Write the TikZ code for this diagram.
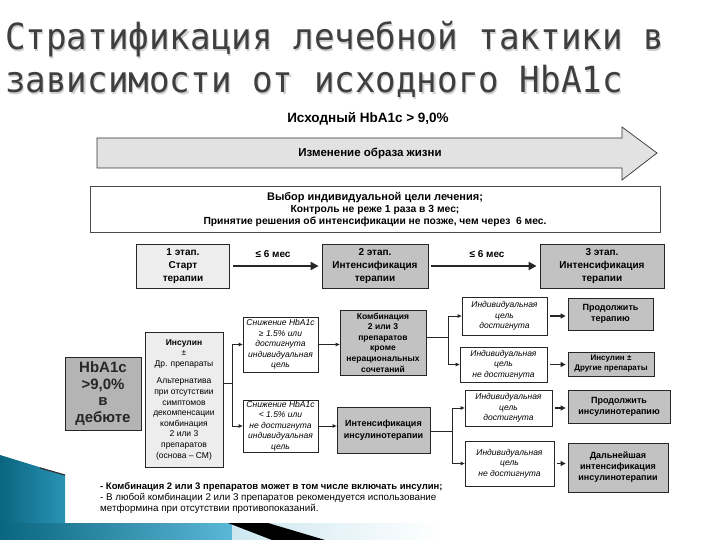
\documentclass[tikz,border=0pt]{standalone}
\usepackage{fontspec}
\setmainfont{Liberation Sans}
\newfontfamily\titlefont[FakeStretch=0.95]{DejaVu Sans Mono}
\usetikzlibrary{arrows.meta}
\definecolor{titlegray}{HTML}{3F3F3F}
\definecolor{shadowgray}{HTML}{D0D0D0}
\definecolor{lightfill}{HTML}{EDEDED}
\definecolor{midfill}{HTML}{C2C2C2}
\definecolor{hbfill}{HTML}{B4B4B4}
\definecolor{arrowfill}{HTML}{E2E2E2}
\definecolor{tealA}{HTML}{0A6580}
\definecolor{tealB}{HTML}{2A93B5}
\definecolor{skyA}{HTML}{5BB7D6}
\definecolor{skyB}{HTML}{CDE7F0}
\newcommand\fsz[2]{\fontsize{#1}{#2}\selectfont}
\tikzset{
  box/.style={draw=black!85, line width=0.8pt, inner sep=0pt, align=center},
  lightbox/.style={box, fill=lightfill},
  graybox/.style={box, fill=midfill},
  whitebox/.style={box, fill=white},
  conn/.style={draw=black!85, line width=0.8pt},
  arr/.style={conn, -{Triangle[length=4pt,width=3.5pt]}},
  thickarr/.style={draw=black!85, line width=1.6pt, -{Triangle[length=5pt,width=5pt]}},
  bigarr/.style={draw=black!85, line width=2.4pt, -{Triangle[length=8pt,width=8pt]}},
  smalltxt/.style={font=\fsz{8.5}{10.6}},
  boldtxt/.style={font=\bfseries\fsz{9}{11}},
  stagetxt/.style={font=\bfseries\fsz{10}{13}},
  itxt/.style={font=\itshape\fsz{8.5}{10.6}},
}
\begin{document}
\begin{tikzpicture}[x=1pt,y=-1pt]
\useasboundingbox (0,0) rectangle (720,540);
\fill[white] (0,0) rectangle (720,540);

% decorative bottom-left shapes
\shade[left color=tealA, right color=tealB] (0,455) -- (65,475) -- (65,523) -- (0,523) -- cycle;
\draw[black!80, line width=1.2pt] (40,468) -- (65,475);
\shade[left color=tealA, right color=skyA] (0,523) rectangle (232,540);
\shade[left color=skyB, right color=white] (232,523) rectangle (440,540);
\fill[black] (228,523) -- (268,523) -- (325,540) -- (272,540) -- cycle;

% title
\node[anchor=base west, inner sep=0, text=shadowgray, font=\titlefont\fsz{36}{43}] (t1s) at (6.2,51.2) {Стратификация лечебной тактики в};
\node[anchor=base west, inner sep=0, text=shadowgray, font=\titlefont\fsz{36}{43}] (t2s) at (6.2,94.2) {зависимости от исходного HbA1c};
\node[anchor=base west, inner sep=0, text=titlegray, font=\titlefont\fsz{36}{43}] (t1) at (5,50) {Стратификация лечебной тактики в};
\node[anchor=base west, inner sep=0, text=titlegray, font=\titlefont\fsz{36}{43}] (t2) at (5,93) {зависимости от исходного HbA1c};

% header
\node[font=\bfseries\fsz{13.5}{16}, inner sep=0] (hdr) at (368,119) {Исходный HbA1c > 9,0\%};

% big arrow
\fill[arrowfill] (97,138) -- (622,138) -- (622,127) -- (657,153) -- (622,180) -- (622,168) -- (97,168) -- cycle;
\draw[black!80, line width=0.7pt] (97,138) -- (622,138) -- (622,127) -- (657,153) -- (622,180) -- (622,168) -- (97,168) -- cycle;
\node[font=\bfseries\fsz{11.5}{14}, inner sep=0] (life) at (370,153) {Изменение образа жизни};

% goal box
\node[whitebox, draw=black!70, minimum width=570, minimum height=46, font=\bfseries\fsz{10.3}{12}] (goal) at (375,209)
  {{\fsz{11}{12}Выбор индивидуальной цели лечения;}\\Контроль не реже 1 раза в 3 мес;\\Принятие решения об интенсификации не позже, чем через \ 6 мес.};

% stages
\node[lightbox, minimum width=93, minimum height=44, stagetxt] (s1) at (183,266) {1 этап.\\Старт\\терапии};
\node[graybox, minimum width=106, minimum height=44, stagetxt] (s2) at (375,266) {2 этап.\\Интенсификация\\терапии};
\node[graybox, minimum width=124, minimum height=44, stagetxt] (s3) at (602,266) {3 этап.\\Интенсификация\\терапии};
\draw[bigarr] ([xshift=3pt]s1.east) -- ([xshift=-3pt]s2.west);
\draw[bigarr] ([xshift=3pt]s2.east) -- ([xshift=-3pt]s3.west);
\node[font=\bfseries\fsz{10}{12}, inner sep=0] (m1) at (273,254) {≤ 6 мес};
\node[font=\bfseries\fsz{10}{12}, inner sep=0] (m2) at (487,254) {≤ 6 мес};

% left column
\node[box, fill=hbfill, minimum width=76, minimum height=73, font=\bfseries\fsz{15}{16.5}, text=black!85] (hb) at (103,393.5) {HbA1c\\>9,0\%\\в\\дебюте};
\node[lightbox, minimum width=78, minimum height=135, smalltxt] (ins) at (184,399.5)
  {\textbf{Инсулин}\\±\\Др. препараты\\[7pt]Альтернатива\\при отсутствии\\симптомов\\декомпенсации\\комбинация\\2 или 3\\препаратов\\(основа – СМ)};

% middle
\node[whitebox, minimum width=75, minimum height=55, itxt] (up) at (280.5,344.5) {Снижение HbA1c\\≥ 1.5\% или\\достигнута\\индивидуальная\\цель};
\node[whitebox, minimum width=75, minimum height=52, itxt] (lo) at (280.5,426) {Снижение HbA1c\\< 1.5\% или\\не достигнута\\индивидуальная\\цель};
\node[graybox, minimum width=86, minimum height=65, font=\bfseries\fsz{8.5}{10.6}] (comb) at (383,342.5) {Комбинация\\2 или 3\\препаратов\\кроме\\нерациональных\\сочетаний};
\node[graybox, minimum width=93, minimum height=46, font=\bfseries\fsz{9}{11.5}] (intn) at (383.5,430) {Интенсификация\\инсулинотерапии};

% right column
\node[whitebox, minimum width=85, minimum height=38, itxt] (ra) at (504.5,316) {Индивидуальная\\цель\\достигнута};
\node[whitebox, minimum width=87, minimum height=35, itxt] (rb) at (503.5,364.5) {Индивидуальная\\цель\\не достигнута};
\node[whitebox, minimum width=87, minimum height=36, itxt] (rc) at (508.5,408) {Индивидуальная\\цель\\достигнута};
\node[whitebox, minimum width=89, minimum height=45, itxt] (rd) at (509.5,463.5) {Индивидуальная\\цель\\не достигнута};

\node[graybox, minimum width=85, minimum height=32, boldtxt] (oa) at (610.5,314) {Продолжить\\терапию};
\node[graybox, minimum width=86, minimum height=24, font=\bfseries\fsz{8}{10}] (ob) at (611,364) {Инсулин ±\\Другие препараты};
\node[graybox, minimum width=102, minimum height=33, boldtxt] (oc) at (619,406.5) {Продолжить\\инсулинотерапию};
\node[graybox, minimum width=100, minimum height=49, boldtxt] (od) at (618,467.5) {Дальнейшая\\интенсификация\\инсулинотерапии};

% connectors
\coordinate (b1) at (232,383);
\draw[conn] (ins.east |- b1) -- (b1);
\draw[arr] (b1) |- (up.west);
\draw[arr] (b1) |- (lo.west);
\draw[arr] (up.east) -- (up.east -| comb.west);
\draw[arr] (lo.east) -- (lo.east -| intn.west);

\coordinate (b2) at (448,337);
\draw[conn] (comb.east |- b2) -- (b2);
\draw[arr] (b2) |- (ra.west);
\draw[arr] (b2) |- (rb.west);

\coordinate (b3) at (452,431);
\draw[conn] (intn.east |- b3) -- (b3);
\draw[arr] (b3) |- (rc.west);
\draw[arr] (b3) |- (rd.west);

\draw[thickarr] ([xshift=3pt]ra.east) -- ([xshift=-2pt]ra.east -| oa.west);
\draw[thickarr] ([xshift=3pt]rb.east) -- ([xshift=-2pt]rb.east -| ob.west);
\draw[thickarr] ([xshift=3pt]rc.east) -- ([xshift=-2pt]rc.east -| oc.west);
\draw[thickarr] ([xshift=3pt]rd.east) -- ([xshift=-2pt]rd.east -| od.west);

% notes
\node[anchor=north west, align=left, inner sep=0, font=\fsz{9.8}{11}] (notes) at (100,482)
  {{\bfseries\fsz{9.5}{11}- Комбинация 2 или 3 препаратов может в том числе включать инсулин;}\\
   - В любой комбинации 2 или 3 препаратов рекомендуется использование\\
   метформина при отсутствии противопоказаний.};
\end{tikzpicture}
\end{document}
